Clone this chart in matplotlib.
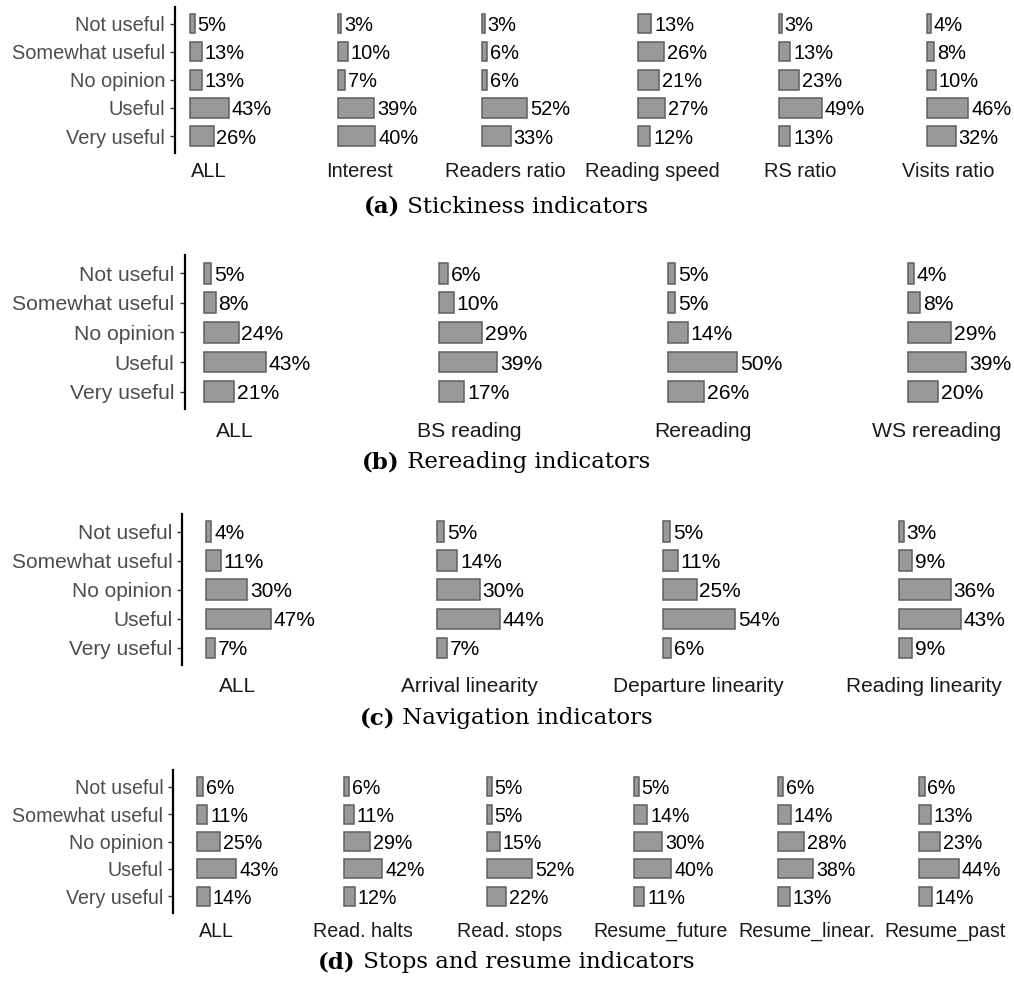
import matplotlib
matplotlib.use("Agg")
import matplotlib.pyplot as plt

# ---- data -------------------------------------------------------------
levels = ["Not useful", "Somewhat useful", "No opinion", "Useful", "Very useful"]

stick_facets = ["ALL", "Interest", "Readers ratio", "Reading speed", "RS ratio", "Visits ratio"]
stick_values = [
    [5, 13, 13, 43, 26],
    [3, 10, 7, 39, 40],
    [3, 6, 6, 52, 33],
    [13, 26, 21, 27, 12],
    [3, 13, 23, 49, 13],
    [4, 8, 10, 46, 32],
]

reread_facets = ["ALL", "BS reading", "Rereading", "WS rereading"]
reread_values = [
    [5, 8, 24, 43, 21],
    [6, 10, 29, 39, 17],
    [5, 5, 14, 50, 26],
    [4, 8, 29, 39, 20],
]

nav_facets = ["ALL", "Arrival linearity", "Departure linearity", "Reading linearity"]
nav_values = [
    [4, 11, 30, 47, 7],
    [5, 14, 30, 44, 7],
    [5, 11, 25, 54, 6],
    [3, 9, 36, 43, 9],
]

stop_facets = ["ALL", "Read. halts", "Read. stops", "Resume_future", "Resume_linear.", "Resume_past"]
stop_values = [
    [6, 11, 25, 43, 14],
    [6, 11, 29, 42, 12],
    [5, 5, 15, 52, 22],
    [5, 14, 30, 40, 11],
    [6, 14, 28, 38, 13],
    [6, 13, 23, 44, 14],
]

captions = [("(a)", "Stickiness indicators"),
            ("(b)", "Rereading indicators"),
            ("(c)", "Navigation indicators"),
            ("(d)", "Stops and resume indicators")]

# ---- layout (pixels, origin top-left) ---------------------------------
W, H = 1014, 983
panels = [
    dict(facets=stick_facets, values=stick_values, spine_x=175, fs=14.4,
         y_first=23.5, y_last=136.0, width=148,
         starts=[190, 338.3, 482.3, 638.3, 779, 927.3],
         label_x=[209, 359, 505, 652.5, 800, 948], label_y=171.7, cap_y=207),
    dict(facets=reread_facets, values=reread_values, spine_x=184.5, fs=15.2,
         y_first=273.2, y_last=391.7, width=235,
         starts=[204, 439.3, 668.3, 908.3],
         label_x=[235, 469, 703, 937], label_y=431.7, cap_y=462),
    dict(facets=nav_facets, values=nav_values, spine_x=182.3, fs=15.0,
         y_first=531.5, y_last=647.8, width=232,
         starts=[205.7, 437.3, 663.3, 899.3],
         label_x=[238, 469.5, 698.7, 923.7], label_y=686.7, cap_y=718),
    dict(facets=stop_facets, values=stop_values, spine_x=173.3, fs=14.1,
         y_first=786.7, y_last=896.3, width=148,
         starts=[197.3, 344, 487.3, 634.3, 777.7, 919.3],
         label_x=[216.7, 363.3, 510, 660.5, 807, 944.7], label_y=931.7, cap_y=962),
]

SANS = "Liberation Sans"
SERIF = "DejaVu Serif"
PAD = 0.6          # discrete-axis padding (in category units)
XEXTRA = 120       # extra x-range per facet beyond the largest bar
BAR_FILL = "#999999"
BAR_EDGE = "#5f5f5f"

fig = plt.figure(figsize=(W / 100, H / 100), dpi=100)


def fx(px):
    return px / W


def fy(py):
    return 1 - py / H


n = len(levels)
for p in panels:
    fs = p["fs"]
    step = (p["y_last"] - p["y_first"]) / (n - 1)
    top = p["y_first"] - PAD * step
    bottom = p["y_last"] + PAD * step
    for k, (name, vals) in enumerate(zip(p["facets"], p["values"])):
        left = p["starts"][k]
        ax = fig.add_axes([fx(left), fy(bottom), p["width"] / W, (bottom - top) / H])
        ax.patch.set_alpha(0)
        ypos = list(range(n))
        ax.barh(ypos, vals, height=0.7, color=BAR_FILL, edgecolor=BAR_EDGE,
                linewidth=1.1, clip_on=False)
        for yi, v in zip(ypos, vals):
            ax.annotate(f"{v}%", xy=(v, yi), xytext=(2.0, 0), textcoords="offset points",
                        ha="left", va="center_baseline", fontsize=fs, family=SANS,
                        color="black", annotation_clip=False)
        ax.set_xlim(0, max(vals) + XEXTRA)
        ax.set_ylim(n - 1 + PAD, -PAD)
        for s in ["top", "right", "bottom"]:
            ax.spines[s].set_visible(False)
        ax.set_xticks([])
        if k == 0:
            ax.spines["left"].set_position(("outward", (left - p["spine_x"]) * 0.72))
            ax.spines["left"].set_linewidth(1.6)
            ax.spines["left"].set_color("black")
            ax.set_yticks(ypos)
            ax.set_yticklabels(levels, fontsize=fs, family=SANS, color="#4D4D4D")
            ax.tick_params(axis="y", length=3.4, width=1.0, color="#333333", pad=3.8)
        else:
            ax.spines["left"].set_visible(False)
            ax.set_yticks([])
        fig.text(fx(p["label_x"][k]), fy(p["label_y"]), name, ha="center", va="center",
                 fontsize=fs, family=SANS, color="#1A1A1A")

# ---- captions: bold tag followed by regular text, centred as one line ----
fig.canvas.draw()
renderer = fig.canvas.get_renderer()
for p, (tag, text) in zip(panels, captions):
    t1 = fig.text(0, fy(p["cap_y"]), tag, ha="left", va="center", fontsize=16.5,
                  family=SERIF, fontweight="bold", color="black")
    t2 = fig.text(0, fy(p["cap_y"]), " " + text, ha="left", va="center", fontsize=16.5,
                  family=SERIF, color="black")
    w1 = t1.get_window_extent(renderer).width
    w2 = t2.get_window_extent(renderer).width
    x0 = 506 - (w1 + w2) / 2
    t1.set_x(fx(x0))
    t2.set_x(fx(x0 + w1))

fig.savefig("out.png", dpi=100)
